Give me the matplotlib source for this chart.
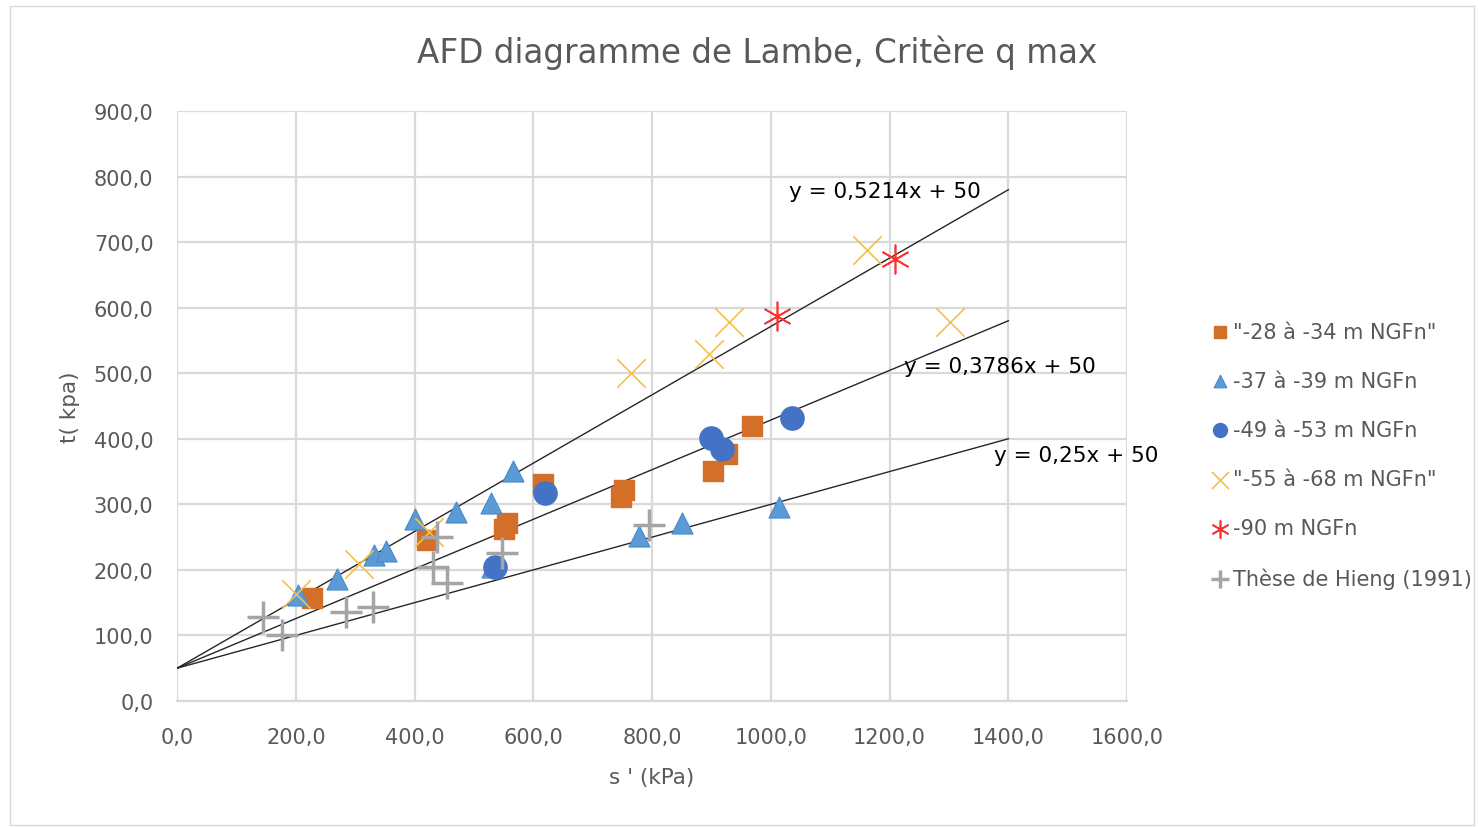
import matplotlib.pyplot as plt
import numpy as np
from matplotlib.ticker import FuncFormatter

# data (s', t) in kPa
sq_x = [227, 421, 550, 555, 616, 747, 752, 902, 926, 968]
sq_y = [157, 246, 263, 272, 331, 311, 322, 351, 377, 420]

tri_x = [203, 270, 331, 352, 400, 470, 529, 566, 530, 778, 850, 1014]
tri_y = [161, 186, 223, 229, 277, 288, 302, 351, 205, 251, 271, 296]

circ_x = [535, 620, 899, 917, 1035]
circ_y = [204, 317, 401, 384, 431]

x_x = [200, 306, 424, 765, 895, 929, 1162, 1302]
x_y = [163, 209, 258, 500, 529, 578, 688, 578]

ast_x = [1011, 1209]
ast_y = [587, 675]

plus_x = [144, 177, 285, 330, 431, 455, 437, 547, 795]
plus_y = [128, 100, 135, 143, 205, 180, 250, 226, 268]

slopes = [0.5214, 0.3786, 0.25]
intercept = 50
eq_labels = ["y = 0,5214x + 50", "y = 0,3786x + 50", "y = 0,25x + 50"]
eq_pos = [(1030, 778), (1224, 511), (1375, 375)]

fig = plt.figure(figsize=(14.78, 8.28), dpi=100)
ax = fig.add_axes([0.1198, 0.1522, 0.6428, 0.7125])

grey = '#595959'
ax.set_xlim(0, 1600)
ax.set_ylim(0, 900)
ax.set_xticks(np.arange(0, 1601, 200))
ax.set_yticks(np.arange(0, 901, 100))
fmt = FuncFormatter(lambda v, p: ("%.1f" % v).replace('.', ','))
ax.xaxis.set_major_formatter(fmt)
ax.yaxis.set_major_formatter(fmt)
ax.grid(True, color='#d9d9d9', lw=1.6)
ax.set_axisbelow(True)
for s in ax.spines.values():
    s.set_visible(False)
ax.spines['bottom'].set_visible(True)
ax.spines['bottom'].set_color('#d9d9d9')
ax.spines['bottom'].set_linewidth(1.6)
ax.tick_params(length=0, labelsize=15, colors=grey)
ax.tick_params(axis='y', pad=17)
ax.tick_params(axis='x', pad=19)

xl = np.array([0, 1400])
for m in slopes:
    ax.plot(xl, m * xl + intercept, color='#262626', lw=1, zorder=2)
for lab, (px, py) in zip(eq_labels, eq_pos):
    ax.text(px, py, lab, fontsize=15.5, color='black', va='center', ha='left', zorder=5)

ax.scatter(sq_x, sq_y, marker='s', s=200, color='#d36f28', label='"-28 à -34 m NGFn"', zorder=3)
ax.scatter(tri_x, tri_y, marker='^', s=230, color='#5b9bd5', edgecolors='#4a8ac8', lw=0.8,
           label='-37 à -39 m NGFn', zorder=3)
ax.scatter(circ_x, circ_y, marker='o', s=280, color='#4472c4', label='-49 à -53 m NGFn', zorder=3)
ax.scatter(x_x, x_y, marker='x', s=420, color='#f4c04a', lw=1.2, label='"-55 à -68 m NGFn"', zorder=3)
ax.scatter(ast_x, ast_y, marker=(6, 2, 0), s=420, color='#ff3030', lw=1.2, label='-90 m NGFn', zorder=3)
ax.scatter(plus_x, plus_y, marker='+', s=500, color='#a5a5a5', lw=2.5,
           label='Thèse de Hieng (1991)', zorder=3)

ax.set_xlabel("s ' (kPa)", fontsize=15.5, color=grey, labelpad=14)
ax.set_ylabel("t( kpa)", fontsize=15.5, color=grey, labelpad=10)
fig.text(757 / 1478, 1 - 53 / 828, "AFD diagramme de Lambe, Critère q max",
         fontsize=23.5, color=grey, ha='center', va='center')

handles, labels = ax.get_legend_handles_labels()
leg = fig.legend(handles, labels, loc='center left', bbox_to_anchor=(0.806, 0.449),
                 frameon=False, fontsize=15, labelcolor=grey, handletextpad=0.1,
                 labelspacing=1.4, markerscale=0.6, handlelength=1.0)

fig.patches.append(plt.Rectangle((0.007, 0.002), 0.99, 0.99, transform=fig.transFigure,
                                 fill=False, edgecolor='#d9d9d9', lw=1))

fig.savefig('out.png', dpi=100)
